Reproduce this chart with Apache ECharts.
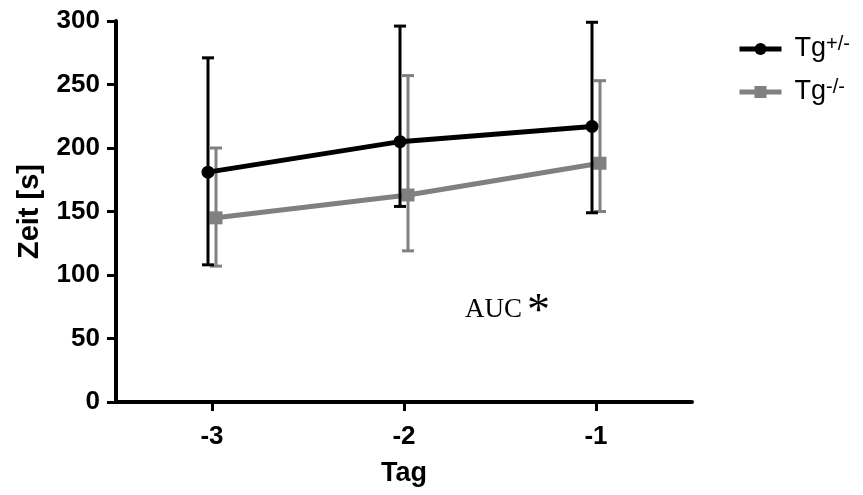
<!DOCTYPE html>
<html>
<head>
<meta charset="utf-8">
<script src="https://cdn.jsdelivr.net/npm/echarts@6/dist/echarts.min.js"></script>
<style>
  html, body { margin: 0; padding: 0; background: #fff; }
  #chart { width: 863px; height: 495px; }
</style>
</head>
<body>
<div id="chart"></div>
<script>
// Tage vor dem Test
const days = [-3, -2, -1];
const xTicks = ["-3", "-2", "-1"];
const yTicks = [0, 50, 100, 150, 200, 250, 300];

// Tg+/- (schwarz)
const hetMean = [181, 205, 217];
const hetLow = [108, 154, 149];
const hetHigh = [271, 296, 299];

// Tg-/- (grau)
const koMean = [145, 163, 188];
const koLow = [107, 119, 150];
const koHigh = [200, 257, 253];

const black = "#000000";
const grey = "#808080";
const font = "Liberation Sans, Arial, sans-serif";

let mycharts = echarts.init(document.getElementById("chart"));

// Fehlerbalken als custom series
function errorBars(color) {
  return function (params, api) {
    const x = api.value(0);
    const lo = api.coord([x, api.value(1)]);
    const hi = api.coord([x, api.value(2)]);
    const half = 6;
    const st = { stroke: color, lineWidth: 3 };
    return {
      type: "group",
      children: [
        { type: "line", shape: { x1: lo[0], y1: lo[1], x2: hi[0], y2: hi[1] }, style: st },
        { type: "line", shape: { x1: hi[0] - half, y1: hi[1], x2: hi[0] + half, y2: hi[1] }, style: st },
        { type: "line", shape: { x1: lo[0] - half, y1: lo[1], x2: lo[0] + half, y2: lo[1] }, style: st },
      ],
    };
  };
}

const pts = (means) => days.map((d, i) => [d, means[i]]);
const bars = (lows, highs) => days.map((d, i) => [d, lows[i], highs[i]]);

const hiddenX = (gi) => ({ gridIndex: gi, type: "value", min: -3.5, max: -0.5, show: false });
const hiddenY = (gi) => ({ gridIndex: gi, type: "value", min: 0, max: 300, show: false });

let option = {
  animation: false,
  grid: [
    { left: 116, width: 576, top: 21, height: 381 },
    { left: 112, width: 576, top: 21, height: 381 },
    { left: 120, width: 576, top: 21, height: 381 },
  ],
  legend: {
    data: ["Tg+/-", "Tg-/-"],
    orient: "vertical",
    left: 732,
    top: 29,
    itemWidth: 42,
    itemHeight: 15,
    itemGap: 13,
    lineStyle: { width: 5 },
    formatter: (name) => "{b|Tg}{s|" + name.slice(2) + "}",
    textStyle: {
      padding: [0, 0, 0, 8],
      rich: {
        b: { fontFamily: font, fontSize: 27, color: black, lineHeight: 30 },
        s: { fontFamily: font, fontSize: 20, color: black, verticalAlign: "top", lineHeight: 20, padding: [0, 0, 10, 0] },
      },
    },
  },
  xAxis: [
    {
      gridIndex: 0,
      type: "value",
      min: -3.5,
      max: -0.5,
      interval: 1,
      name: "Tag",
      nameLocation: "middle",
      nameGap: 58,
      nameTextStyle: { fontFamily: font, fontSize: 27, fontWeight: "bold", color: black },
      splitLine: { show: false },
      axisLine: { lineStyle: { color: black, width: 4 } },
      axisTick: { length: 9, lineStyle: { width: 3, color: black }, customValues: days },
      axisLabel: {
        customValues: days,
        formatter: (v) => xTicks[days.indexOf(v)] ?? "",
        margin: 22,
        fontFamily: font,
        fontSize: 26,
        fontWeight: "bold",
        color: black,
      },
    },
    hiddenX(1),
    hiddenX(2),
  ],
  yAxis: [
    {
      gridIndex: 0,
      type: "value",
      min: yTicks[0],
      max: yTicks[yTicks.length - 1],
      interval: 50,
      name: "Zeit [s]",
      nameLocation: "middle",
      nameGap: 72,
      nameTextStyle: { fontFamily: font, fontSize: 29, fontWeight: "bold", color: black },
      splitLine: { show: false },
      axisLine: { show: true, lineStyle: { color: black, width: 4 } },
      axisTick: { show: true, length: 9, lineStyle: { width: 3, color: black } },
      axisLabel: { margin: 16, fontFamily: font, fontSize: 26, fontWeight: "bold", color: black },
    },
    hiddenY(1),
    hiddenY(2),
  ],
  graphic: [
    {
      type: "text",
      left: 465,
      top: 296,
      style: { text: "AUC", font: "27px 'Liberation Serif', 'Times New Roman', serif", fill: black },
    },
    {
      type: "text",
      left: 527,
      top: 290,
      style: { text: "*", font: "46px 'Liberation Serif', 'Times New Roman', serif", fill: black },
    },
  ],
  series: [
    {
      type: "custom",
      xAxisIndex: 2,
      yAxisIndex: 2,
      renderItem: errorBars(grey),
      data: bars(koLow, koHigh),
      z: 2,
    },
    {
      name: "Tg-/-",
      type: "line",
      xAxisIndex: 2,
      yAxisIndex: 2,
      data: pts(koMean),
      symbol: "rect",
      symbolSize: 13,
      itemStyle: { color: grey },
      lineStyle: { color: grey, width: 5 },
      z: 3,
    },
    {
      type: "custom",
      xAxisIndex: 1,
      yAxisIndex: 1,
      renderItem: errorBars(black),
      data: bars(hetLow, hetHigh),
      z: 4,
    },
    {
      name: "Tg+/-",
      type: "line",
      xAxisIndex: 1,
      yAxisIndex: 1,
      data: pts(hetMean),
      symbol: "circle",
      symbolSize: 13,
      itemStyle: { color: black },
      lineStyle: { color: black, width: 5 },
      z: 5,
    },
  ],
};
mycharts.setOption(option);
</script>
</body>
</html>
